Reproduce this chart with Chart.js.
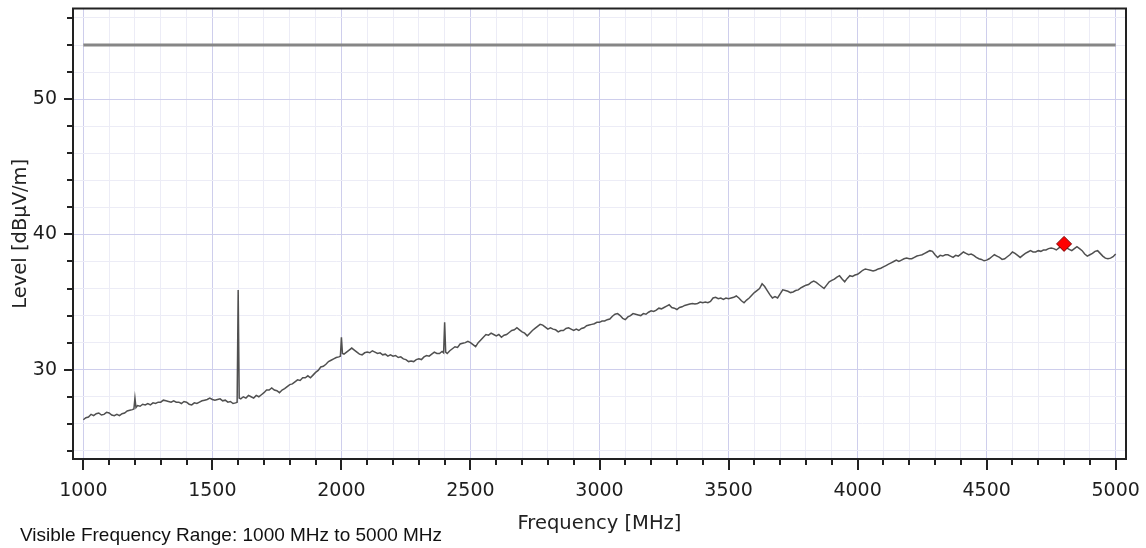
<!DOCTYPE html>
<html><head><meta charset="utf-8">
<script src="https://cdn.jsdelivr.net/npm/chart.js@4.4.1/dist/chart.umd.min.js"></script>
<style>
html,body{margin:0;padding:0;background:#fff;}
#wrap{position:relative;width:1146px;height:548px;overflow:hidden;}
canvas{display:block;}
#note{position:absolute;left:20px;top:525px;font-family:"Liberation Sans",Arial,sans-serif;font-size:19px;line-height:19px;color:#111;white-space:nowrap;}
</style></head><body>
<div id="wrap"><canvas id="c" width="1146" height="548"></canvas><div id="note">Visible Frequency Range: 1000 MHz to 5000 MHz</div></div>
<script>
// ---- data ----
const freqMHz = [
1000,1010,1020,1030,1040,1050,1060,1070,1080,1090,
1100,1110,1120,1130,1140,1150,1160,1170,1180,1190,
1196,1200,1204,1210,1220,1230,1240,1250,1260,1270,
1280,1290,1300,1310,1320,1330,1340,1350,1360,1370,
1380,1390,1400,1410,1420,1430,1440,1450,1460,1470,
1480,1490,1500,1510,1520,1530,1540,1550,1560,1570,
1580,1590,1596,1600,1604,1610,1620,1630,1640,1650,
1660,1670,1680,1690,1700,1710,1720,1730,1740,1750,
1760,1770,1780,1790,1800,1810,1820,1830,1840,1850,
1860,1870,1880,1890,1900,1910,1920,1930,1940,1950,
1960,1970,1980,1990,1996,2000,2004,2010,2020,2030,
2040,2050,2060,2070,2080,2090,2100,2110,2120,2130,
2140,2150,2160,2170,2180,2190,2200,2210,2220,2230,
2240,2250,2260,2270,2280,2290,2300,2310,2320,2330,
2340,2350,2360,2370,2380,2390,2396,2400,2404,2410,
2420,2430,2440,2450,2460,2470,2480,2490,2500,2510,
2520,2530,2540,2550,2560,2570,2580,2590,2600,2610,
2620,2630,2640,2650,2660,2670,2680,2690,2700,2710,
2720,2730,2740,2750,2760,2770,2780,2790,2800,2810,
2820,2830,2840,2850,2860,2870,2880,2890,2900,2910,
2920,2930,2940,2950,2960,2970,2980,2990,3000,3010,
3020,3030,3040,3050,3060,3070,3080,3090,3100,3110,
3120,3130,3140,3150,3160,3170,3180,3190,3200,3210,
3220,3230,3240,3250,3260,3270,3280,3290,3300,3310,
3320,3330,3340,3350,3360,3370,3380,3390,3400,3410,
3420,3430,3440,3450,3460,3470,3480,3490,3500,3510,
3520,3530,3540,3550,3560,3570,3580,3590,3600,3610,
3620,3630,3640,3650,3660,3670,3680,3690,3700,3710,
3720,3730,3740,3750,3760,3770,3780,3790,3800,3810,
3820,3830,3840,3850,3860,3870,3880,3890,3900,3910,
3920,3930,3940,3950,3960,3970,3980,3990,4000,4010,
4020,4030,4040,4050,4060,4070,4080,4090,4100,4110,
4120,4130,4140,4150,4160,4170,4180,4190,4200,4210,
4220,4230,4240,4250,4260,4270,4280,4290,4300,4310,
4320,4330,4340,4350,4360,4370,4380,4390,4400,4410,
4420,4430,4440,4450,4460,4470,4480,4490,4500,4510,
4520,4530,4540,4550,4560,4570,4580,4590,4600,4610,
4620,4630,4640,4650,4660,4670,4680,4690,4700,4710,
4720,4730,4740,4750,4760,4770,4780,4790,4800,4810,
4820,4830,4840,4850,4860,4870,4880,4890,4900,4910,
4920,4930,4940,4950,4960,4970,4980,4990,5000];
const levelDb = [
26.3,26.45,26.5,26.7,26.6,26.75,26.8,26.65,26.7,26.85,
26.8,26.65,26.6,26.7,26.6,26.75,26.8,26.95,27.0,27.05,
27.1,27.9,27.2,27.35,27.3,27.45,27.4,27.5,27.4,27.55,
27.5,27.6,27.6,27.75,27.7,27.65,27.6,27.7,27.6,27.6,
27.5,27.65,27.6,27.45,27.4,27.55,27.5,27.6,27.7,27.75,
27.8,27.9,27.8,27.75,27.8,27.85,27.7,27.75,27.6,27.65,
27.5,27.55,27.6,35.9,27.9,27.85,28.0,27.9,28.1,28.0,
27.9,28.1,28.0,28.15,28.3,28.5,28.5,28.65,28.5,28.45,
28.3,28.5,28.6,28.75,28.9,28.95,29.1,29.25,29.2,29.4,
29.4,29.55,29.4,29.6,29.8,29.95,30.2,30.25,30.4,30.6,
30.7,30.8,30.9,30.95,31.0,32.4,31.2,31.15,31.3,31.45,
31.6,31.45,31.3,31.15,31.1,31.25,31.3,31.25,31.4,31.3,
31.2,31.25,31.1,31.15,31.0,31.1,31.0,31.05,30.9,30.95,
30.8,30.75,30.6,30.65,30.6,30.75,30.8,30.75,30.95,31.05,
31.0,31.15,31.3,31.2,31.2,31.35,31.25,33.5,31.3,31.2,
31.4,31.55,31.7,31.65,31.9,31.95,32.0,32.1,32.0,31.85,
31.7,32.0,32.2,32.4,32.6,32.55,32.7,32.6,32.5,32.6,
32.4,32.55,32.6,32.75,32.9,32.95,33.1,32.95,32.8,32.7,
32.5,32.7,32.9,33.05,33.2,33.35,33.3,33.15,33.0,33.1,
33.0,32.95,32.8,32.9,32.9,33.05,33.1,33.0,32.9,33.0,
32.9,33.05,33.1,33.25,33.3,33.35,33.4,33.5,33.5,33.6,
33.6,33.7,33.75,33.95,34.1,34.15,34.0,33.8,33.7,33.9,
34.0,34.15,34.1,34.05,34.0,34.15,34.1,34.25,34.35,34.3,
34.4,34.55,34.5,34.6,34.7,34.8,34.6,34.55,34.45,34.6,
34.65,34.75,34.8,34.85,34.9,34.85,34.9,35.0,34.95,35.0,
34.95,35.05,35.3,35.35,35.25,35.3,35.2,35.3,35.25,35.3,
35.35,35.45,35.3,35.1,34.95,35.15,35.3,35.5,35.7,35.85,
36.0,36.35,36.15,35.85,35.55,35.3,35.4,35.3,35.6,35.9,
35.85,35.8,35.7,35.75,35.85,35.9,36.05,36.15,36.25,36.3,
36.45,36.55,36.45,36.3,36.15,36.0,36.25,36.5,36.6,36.7,
36.85,36.95,36.7,36.5,36.75,36.95,36.9,37.0,37.05,37.2,
37.35,37.45,37.4,37.35,37.3,37.35,37.45,37.5,37.6,37.7,
37.8,37.9,38.0,38.1,38.0,38.1,38.2,38.25,38.2,38.2,
38.3,38.4,38.45,38.5,38.6,38.7,38.8,38.75,38.5,38.3,
38.45,38.4,38.5,38.5,38.4,38.3,38.45,38.4,38.55,38.7,
38.6,38.5,38.55,38.45,38.3,38.2,38.15,38.05,38.1,38.2,
38.35,38.5,38.4,38.3,38.15,38.2,38.35,38.5,38.7,38.6,
38.45,38.3,38.45,38.6,38.7,38.8,38.7,38.7,38.8,38.75,
38.85,38.85,38.95,39.0,38.95,38.85,39.0,39.1,39.3,39.0,
38.9,38.8,38.95,39.1,38.95,38.8,38.55,38.4,38.5,38.6,
38.75,38.8,38.6,38.4,38.25,38.2,38.25,38.35,38.55];
const limitFreq = [1000, 5000];
const limitLevel = [54, 54];
const markerFreq = [4800];
const markerLevel = [39.3];
const xTickLabels = [1000,1500,2000,2500,3000,3500,4000,4500,5000];
const yTickLabels = [30,40,50];

const toXY = (xs, ys) => xs.map((v, i) => ({x: v, y: ys[i]}));

const tickFont = {family: 'DejaVu Sans', size: 19};
const titleFont = {family: 'DejaVu Sans', size: 19.5};
const gridMajor = 'rgb(206,206,236)';
const gridMinor = 'rgb(236,236,246)';

const frame = {
  id: 'frame',
  afterDraw(chart) {
    const {ctx, chartArea: a, scales: {x, y}} = chart;
    ctx.save();
    ctx.strokeStyle = '#222';
    ctx.lineWidth = 2;
    ctx.beginPath();
    x.ticks.forEach(t => {
      const px = Math.round(x.getPixelForValue(t.value));
      const len = xTickLabels.includes(t.value) ? 11 : 6;
      ctx.moveTo(px, a.bottom); ctx.lineTo(px, a.bottom + len);
    });
    y.ticks.forEach(t => {
      const py = Math.round(y.getPixelForValue(t.value));
      const len = yTickLabels.includes(t.value) ? 9 : 6;
      ctx.moveTo(a.left, py); ctx.lineTo(a.left - len, py);
    });
    ctx.stroke();
    ctx.strokeRect(a.left, a.top, a.right - a.left, a.bottom - a.top);
    ctx.restore();
  }
};

new Chart(document.getElementById('c'), {
  type: 'line',
  data: {
    datasets: [
      {data: toXY(limitFreq, limitLevel), borderColor: '#868686', borderWidth: 3, pointRadius: 0, order: 3},
      {data: toXY(freqMHz, levelDb), borderColor: '#505050', borderWidth: 1.5, pointRadius: 0, tension: 0, order: 2},
      {data: toXY(markerFreq, markerLevel), showLine: false, pointStyle: 'rectRot', pointRadius: 7.5,
       backgroundColor: '#ff0000', borderColor: '#7a0000', borderWidth: 1, order: 1}
    ]
  },
  options: {
    responsive: false,
    animation: false,
    devicePixelRatio: 1,
    layout: {padding: {left: 0, right: 20, top: 7, bottom: 0}},
    plugins: {legend: {display: false}, tooltip: {enabled: false}},
    scales: {
      x: {
        type: 'linear', min: 960, max: 5040,
        border: {display: false},
        grid: {
          drawTicks: false, lineWidth: 1,
          color: c => xTickLabels.includes(c.tick.value) ? gridMajor : gridMinor
        },
        ticks: {
          stepSize: 100, autoSkip: false, includeBounds: false, maxRotation: 0, minRotation: 0,
          padding: 21, font: tickFont, color: '#1e1e1e',
          callback: v => xTickLabels.includes(v) ? String(v) : ''
        },
        title: {display: true, text: 'Frequency [MHz]', font: titleFont, color: '#222', padding: {top: 0, bottom: 12}},
        afterFit(s) { s.height = 89; s.paddingLeft = 0; s.paddingRight = 0; }
      },
      y: {
        type: 'linear', min: 23.4, max: 56.7,
        border: {display: false},
        grid: {
          drawTicks: false, lineWidth: 1,
          color: c => yTickLabels.includes(c.tick.value) ? gridMajor : gridMinor
        },
        ticks: {
          stepSize: 2, autoSkip: false, includeBounds: false,
          padding: 16, font: tickFont, color: '#1e1e1e',
          callback: v => yTickLabels.includes(v) ? String(v) : ''
        },
        title: {display: true, text: 'Level [dBµV/m]', font: titleFont, color: '#222', padding: {top: 9, bottom: 0}},
        afterFit(s) { s.width = 73; s.paddingTop = 0; s.paddingBottom = 0; }
      }
    }
  },
  plugins: [frame]
});
</script>
</body></html>
